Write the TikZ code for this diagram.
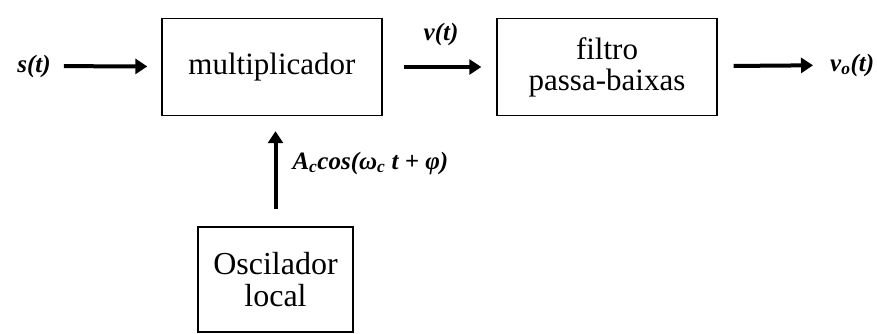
\documentclass[tikz,border=0pt]{standalone}
\usepackage{fontspec}
\setmainfont{Liberation Serif}
\usetikzlibrary{arrows.meta}

\tikzset{
  bloco/.style={draw, line width=1.4pt, minimum width=220pt, minimum height=97pt, align=center, font=\fontsize{31}{35}\selectfont},
  seta/.style={line width=4pt, -{Triangle[length=12pt,width=15pt]}},
  rotulo/.style={font=\fontsize{25}{29}\selectfont\bfseries\itshape, inner sep=1pt}
}

\begin{document}
\begin{tikzpicture}[x=1pt,y=-1pt]
			\useasboundingbox (0,0) rectangle (877,334);
			\node[bloco] (mult) at (272,67) {multiplicador};
			\node[bloco] (filtro) at (607,67) {filtro\\[-4pt]passa-baixas};
			\node[bloco, minimum width=155pt, minimum height=105pt, font=\fontsize{32}{36}\selectfont] (osc) at (275.5,279.5) {Oscilador\\[-4pt]local};
			\node[rotulo] (s) at (34,66) {s(t)};
			\node[rotulo] (v) at (441,34) {v(t)};
			\node[rotulo, anchor=west] (vo) at (829,65) {v\textsubscript{o}(t)};
			\draw[seta, shorten <=12pt, shorten >=14pt] (s) -- (mult);
			\draw[seta, shorten <=21pt, shorten >=15pt] (mult) -- (filtro);
			\draw[seta, shorten <=16pt, shorten >=16pt] (filtro) -- (vo);
			\draw[seta, shorten <=17pt, shorten >=15pt] (osc) -- (osc |- mult.south) node[rotulo, midway, right=14pt, yshift=8pt] {A\textsubscript{c}cos(ω\textsubscript{c} t + φ)};
		\end{tikzpicture}
\end{document}
